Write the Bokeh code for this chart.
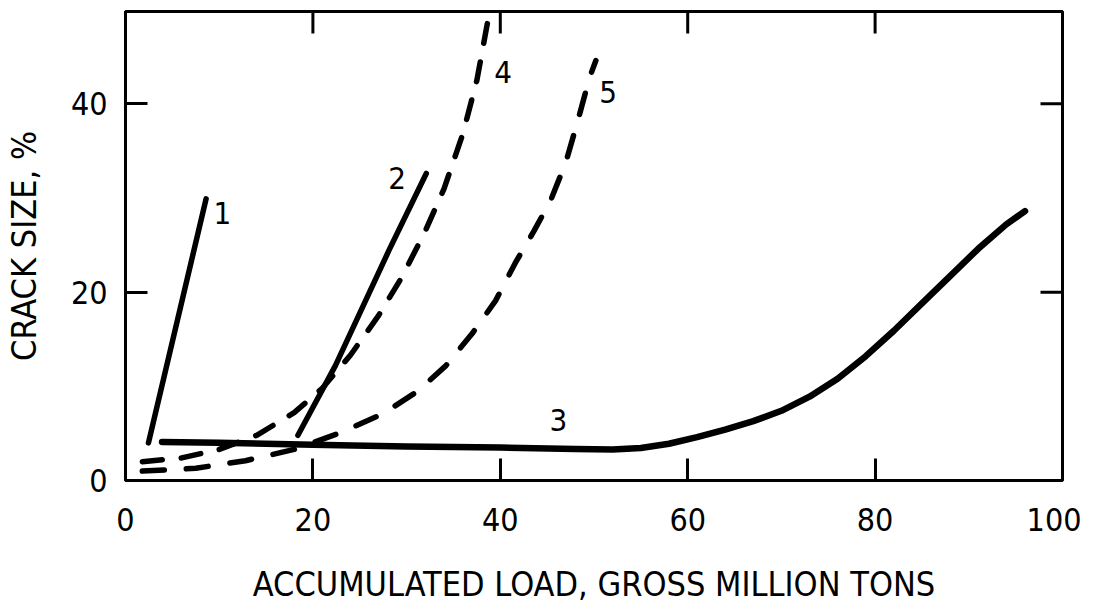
import math
from bokeh.plotting import figure
from bokeh.models import Range1d, FixedTicker, ColumnDataSource
from bokeh.core.properties import value
from bokeh.embed import file_html
from bokeh.resources import INLINE

FONT = "DejaVu Sans Condensed, Liberation Sans Narrow, Roboto"

# Curve data (accumulated load in gross million tons, crack size %)
c1_x = [2.45, 8.6]
c1_y = [4.0, 29.9]

c2_x = [18.4, 22.4, 28.1, 32.1]
c2_y = [4.8, 12.2, 24.4, 32.6]

c3_x = [3.9, 10, 20, 30, 40, 48, 52, 55, 58, 61, 64, 67, 70, 73, 76, 79, 82, 85, 88, 91, 94, 96]
c3_y = [4.1, 4.0, 3.8, 3.6, 3.5, 3.35, 3.3, 3.45, 3.9, 4.6, 5.4, 6.3, 7.4, 8.9, 10.8, 13.2, 15.9, 18.8, 21.7, 24.6, 27.2, 28.6]

c4_x = [1.8, 6, 10, 14, 18, 21, 24, 27, 29.5, 32, 34, 36, 37.5, 38.8]
c4_y = [2.0, 2.4, 3.3, 4.8, 7.2, 9.8, 13.3, 17.5, 21.6, 26.5, 31.0, 36.8, 42.5, 49.5]

c5_x = [1.8, 7.5, 12.8, 18, 23, 27.5, 31.2, 34.2, 37, 39.5, 41.6, 43.6, 45.4, 47, 48.3, 49.5, 50.2]
c5_y = [1.0, 1.3, 2.1, 3.3, 5.1, 7.1, 9.5, 12.2, 15.6, 19.1, 23.1, 26.5, 29.8, 33.8, 38.3, 42.7, 44.6]

label_x = [10.35, 29.0, 46.2, 40.3, 51.5]
label_y = [28.4, 32.1, 6.4, 43.4, 41.3]
label_text = ["1", "2", "3", "4", "5"]

x_ticks = [0, 20, 40, 60, 80, 100]
y_ticks = [0, 20, 40]
X_MAX = 100
Y_MAX = 49.8

p = figure(width=1081, height=595, output_backend="svg", toolbar_location=None,
           x_range=Range1d(0, X_MAX), y_range=Range1d(0, Y_MAX),
           x_axis_label="ACCUMULATED LOAD, GROSS MILLION TONS",
           y_axis_label="CRACK SIZE, %")
p.frame_width = 937
p.frame_height = 469
p.min_border_left = 125
p.min_border_top = 11
p.min_border_right = 19
p.min_border_bottom = 110
p.grid.visible = False
p.background_fill_color = "white"
p.border_fill_color = "white"
p.outline_line_color = "black"
p.outline_line_width = 3

for ax, ticks in ((p.xaxis[0], x_ticks), (p.yaxis[0], y_ticks)):
    ax.ticker = FixedTicker(ticks=ticks)
    ax.minor_tick_line_color = None
    ax.major_tick_in = 22
    ax.major_tick_out = 0
    ax.major_tick_line_width = 3
    ax.major_tick_line_color = "black"
    ax.axis_line_width = 3
    ax.axis_line_color = "black"
    ax.major_label_text_font = FONT
    ax.major_label_text_color = "black"
    ax.major_label_text_font_size = "32px"
    ax.axis_label_text_font = FONT
    ax.axis_label_text_font_size = "34px"
    ax.axis_label_text_font_style = "normal"
    ax.axis_label_text_color = "black"
p.xaxis[0].major_label_standoff = 27
p.yaxis[0].major_label_standoff = 18
p.xaxis[0].axis_label_standoff = 30
p.yaxis[0].axis_label_standoff = 24

# inward ticks on the top and right frame edges
p.ray(x=x_ticks[1:-1], y=[Y_MAX] * (len(x_ticks) - 2), length=22, length_units="screen",
      angle=-math.pi / 2, line_color="black", line_width=3)
p.ray(x=[X_MAX] * (len(y_ticks) - 1), y=y_ticks[1:], length=22, length_units="screen",
      angle=math.pi, line_color="black", line_width=3)

LW = 5.5
p.line(c1_x, c1_y, line_color="black", line_width=LW, line_cap="round")
p.line(c2_x, c2_y, line_color="black", line_width=LW, line_cap="round", line_join="round")
p.line(c3_x, c3_y, line_color="black", line_width=LW + 1, line_cap="round", line_join="round")
p.line(c4_x, c4_y, line_color="black", line_width=LW, line_cap="round", line_join="round", line_dash="20 19")
p.line(c5_x, c5_y, line_color="black", line_width=LW, line_cap="round", line_join="round", line_dash="22 22")

src = ColumnDataSource(dict(x=label_x, y=label_y, t=label_text))
p.text(x="x", y="y", text="t", source=src, text_font=value(FONT), text_font_size="31px",
       text_color="black", text_align="center", text_baseline="middle")

open("out.html", "w").write(file_html(p, INLINE))
